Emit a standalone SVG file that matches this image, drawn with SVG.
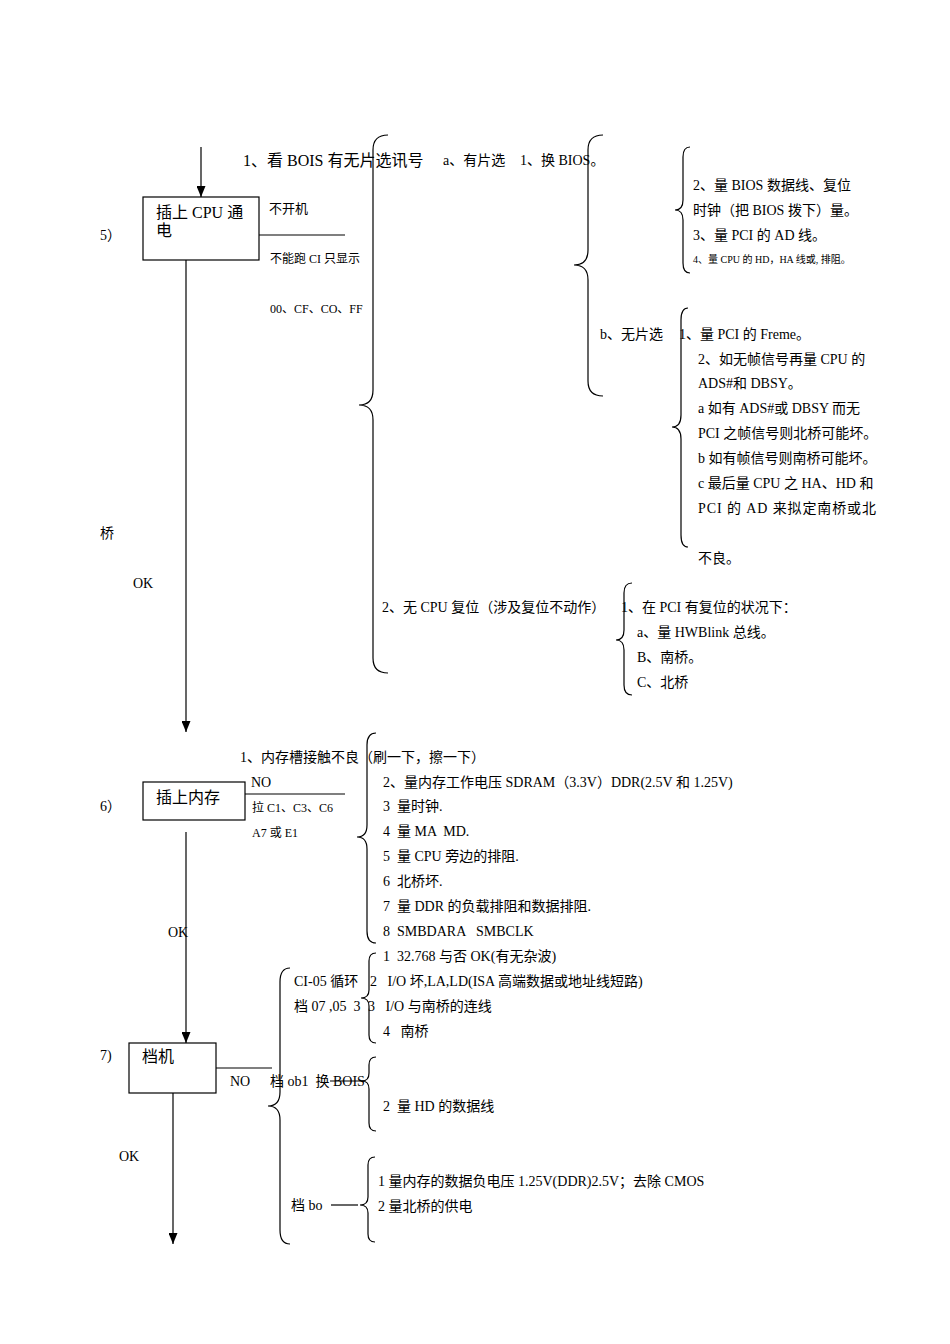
<svg xmlns="http://www.w3.org/2000/svg" width="950" height="1344" viewBox="0 0 950 1344">
<defs>
<marker id="arr" markerWidth="11" markerHeight="9" refX="11" refY="4.5" orient="auto" markerUnits="userSpaceOnUse" viewBox="0 0 11 9">
<path d="M0,0 L11,4.5 L0,9 Z" fill="#000"/>
</marker>
</defs>
<style>
text{font-family:"Liberation Serif","Noto Sans CJK SC",serif;fill:#000;}
.f16{font-size:16px;}
.f14{font-size:14px;}
.f13{font-size:13px;}
.f12{font-size:12px;}
.f10{font-size:10px;}
.ln{stroke:#000;stroke-width:1.2;fill:none;}
.box{stroke:#000;stroke-width:1.2;fill:#fff;}
.br{stroke:#000;stroke-width:1.2;fill:none;}
</style>
<rect width="950" height="1344" fill="#fff"/>

<g id="connectors">
<line class="ln" x1="201" y1="147" x2="201" y2="197" marker-end="url(#arr)"/>
<line class="ln" x1="186" y1="260" x2="186" y2="732" marker-end="url(#arr)"/>
<line class="ln" x1="259" y1="235" x2="345" y2="235"/>
<line class="ln" x1="186" y1="832" x2="186" y2="1043" marker-end="url(#arr)"/>
<line class="ln" x1="245" y1="794" x2="345" y2="794"/>
<line class="ln" x1="173" y1="1093" x2="173" y2="1244" marker-end="url(#arr)"/>
<line class="ln" x1="216" y1="1068" x2="272" y2="1068"/>
<line class="ln" x1="330" y1="1081" x2="364" y2="1081"/>
<line class="ln" x1="331" y1="1205" x2="358" y2="1205"/>
</g>

<g id="braces">
<path class="br" d="M388,135 Q373,135 373,150 L373,390 Q373,405 359,405 Q373,405 373,420 L373,658 Q373,673 388,673"/>
<path class="br" d="M603,135 Q588,135 588,150 L588,250 Q588,265 574,265 Q588,265 588,280 L588,381 Q588,396 603,396"/>
<path class="br" d="M690,147 Q683,147 683,157 L683,200 Q683,210 675,210 Q683,210 683,220 L683,263 Q683,273 690,273"/>
<path class="br" d="M688,308 Q681,308 681,320 L681,415 Q681,427 672,427 Q681,427 681,439 L681,535 Q681,547 688,547"/>
<path class="br" d="M632,583 Q624,583 624,593 L624,630 Q624,640 616,640 Q624,640 624,650 L624,685 Q624,695 632,695"/>
<path class="br" d="M376,733 Q367,733 367,745 L367,825 Q367,837 357,837 Q367,837 367,849 L367,931 Q367,943 376,943"/>
<path class="br" d="M290,968 Q280,968 280,982 L280,1092 Q280,1106 268,1106 Q280,1106 280,1120 L280,1230 Q280,1244 290,1244"/>
<path class="br" d="M376,953 Q369,953 369,961 L369,990 Q369,998 361,998 Q369,998 369,1006 L369,1035 Q369,1043 376,1043"/>
<path class="br" d="M376,1057 Q369,1057 369,1065 L369,1073 Q369,1081 362,1081 Q369,1081 369,1089 L369,1123 Q369,1131 376,1131"/>
<path class="br" d="M375,1157 Q368,1157 368,1165 L368,1197 Q368,1205 360,1205 Q368,1205 368,1213 L368,1234 Q368,1242 375,1242"/>
</g>

<g id="node5">
<rect class="box" x="143" y="197" width="116" height="63"/>
<text class="f16" x="156" y="218">插上 CPU 通</text>
<text class="f16" x="156" y="236">电</text>
<text class="f14" x="100" y="240">5）</text>
<text class="f13" x="269" y="213">不开机</text>
<text class="f12" x="270" y="263">不能跑 CI 只显示</text>
<text class="f12" x="270" y="313">00、CF、CO、FF</text>
<text class="f16" x="243" y="166">1、看 BOIS 有无片选讯号</text>
<text class="f14" x="443" y="165">a、有片选</text>
<text class="f14" x="520" y="165">1、换 BIOS。</text>
<text class="f14" x="693" y="190">2、量 BIOS 数据线、复位</text>
<text class="f14" x="693" y="215">时钟（把 BIOS 拨下）量。</text>
<text class="f14" x="693" y="240">3、量 PCI 的 AD 线。</text>
<text class="f10" x="693" y="263">4、量 CPU 的 HD，HA 线或, 排阻。</text>
<text class="f14" x="600" y="339">b、无片选</text>
<text class="f14" x="679" y="339">1、量 PCI 的 Freme。</text>
<text class="f14" x="698" y="364">2、如无帧信号再量 CPU 的</text>
<text class="f14" x="698" y="388">ADS#和 DBSY。</text>
<text class="f14" x="698" y="413">a 如有 ADS#或 DBSY 而无</text>
<text class="f14" x="698" y="438">PCI 之帧信号则北桥可能坏。</text>
<text class="f14" x="698" y="463">b 如有帧信号则南桥可能坏。</text>
<text class="f14" x="698" y="488">c 最后量 CPU 之 HA、HD 和</text>
<text class="f14" x="698" y="513" textLength="178" lengthAdjust="spacing">PCI 的 AD 来拟定南桥或北</text>
<text class="f14" x="698" y="563">不良。</text>
<text class="f14" x="100" y="538">桥</text>
<text class="f14" x="133" y="588">OK</text>
<text class="f14" x="382" y="612">2、无 CPU 复位（涉及复位不动作）</text>
<text class="f14" x="621" y="612">1、在 PCI 有复位的状况下：</text>
<text class="f14" x="637" y="637">a、量 HWBlink 总线。</text>
<text class="f14" x="637" y="662">B、南桥。</text>
<text class="f14" x="637" y="687">C、北桥</text>
</g>

<g id="node6">
<rect class="box" x="143" y="782" width="102" height="38"/>
<text class="f16" x="156" y="803">插上内存</text>
<text class="f14" x="100" y="811">6）</text>
<text class="f14" x="251" y="787">NO</text>
<text class="f12" x="252" y="812">拉 C1、C3、C6</text>
<text class="f12" x="252" y="837">A7 或 E1</text>
<text class="f14" x="240" y="762">1、内存槽接触不良（刷一下，擦一下）</text>
<text class="f14" x="383" y="787">2、量内存工作电压 SDRAM（3.3V）DDR(2.5V 和 1.25V)</text>
<text class="f14" x="383" y="811" xml:space="preserve">3  量时钟.</text>
<text class="f14" x="383" y="836" xml:space="preserve">4  量 MA  MD.</text>
<text class="f14" x="383" y="861" xml:space="preserve">5  量 CPU 旁边的排阻.</text>
<text class="f14" x="383" y="886" xml:space="preserve">6  北桥坏.</text>
<text class="f14" x="383" y="911" xml:space="preserve">7  量 DDR 的负载排阻和数据排阻.</text>
<text class="f14" x="383" y="936" xml:space="preserve">8  SMBDARA   SMBCLK</text>
<text class="f14" x="168" y="937">OK</text>
</g>

<g id="node7">
<rect class="box" x="129" y="1043" width="87" height="50"/>
<text class="f16" x="142" y="1062">档机</text>
<text class="f14" x="100" y="1060">7)</text>
<text class="f14" x="230" y="1086">NO</text>
<text class="f14" x="119" y="1161">OK</text>
<text class="f14" x="383" y="961" xml:space="preserve">1  32.768 与否 OK(有无杂波)</text>
<text class="f14" x="294" y="986">CI-05 循环</text>
<text class="f14" x="370" y="986" xml:space="preserve">2   I/O 坏,LA,LD(ISA 高端数据或地址线短路)</text>
<text class="f14" x="294" y="1011" xml:space="preserve">档 07 ,05  3</text>
<text class="f14" x="368" y="1011" xml:space="preserve">3   I/O 与南桥的连线</text>
<text class="f14" x="383" y="1036" xml:space="preserve">4   南桥</text>
<text class="f14" x="270" y="1086" xml:space="preserve">档 ob1  换 BOIS</text>
<text class="f14" x="383" y="1111" xml:space="preserve">2  量 HD 的数据线</text>
<text class="f14" x="378" y="1186">1 量内存的数据负电压 1.25V(DDR)2.5V；去除 CMOS</text>
<text class="f14" x="378" y="1211">2 量北桥的供电</text>
<text class="f14" x="291" y="1210">档 bo</text>
</g>
</svg>
